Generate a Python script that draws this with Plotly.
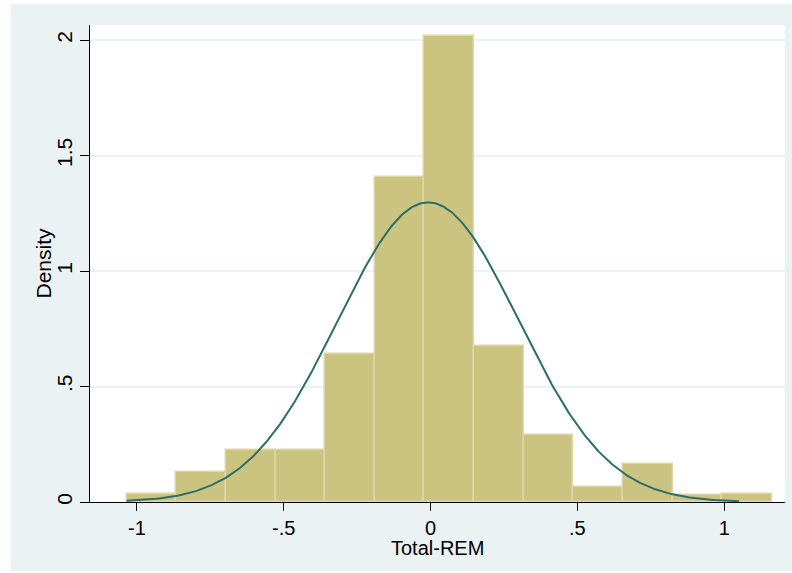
import numpy as np
import plotly.graph_objects as go

# Histogram data (density per bin)
bin_start = -1.0354
bin_width = 0.1691
densities = [0.035, 0.13, 0.226, 0.226, 0.642, 1.407, 2.016, 0.674, 0.29, 0.065, 0.166, 0.032, 0.035]

# Normal density overlay parameters
norm_mean = -0.008
norm_sd = 0.3076
curve_min = -1.0354
curve_max = 1.05

x_tickvals = [-1, -0.5, 0, 0.5, 1]
x_ticktext = ["-1", "-.5", "0", ".5", "1"]
y_tickvals = [0, 0.5, 1, 1.5, 2]
y_ticktext = ["0", ".5", "1", "1.5", "2"]
x_title = "Total-REM"
y_title = "Density"

centers = [bin_start + bin_width * (i + 0.5) for i in range(len(densities))]

xs = np.linspace(curve_min, curve_max, 400)
ys = np.exp(-0.5 * ((xs - norm_mean) / norm_sd) ** 2) / (norm_sd * np.sqrt(2 * np.pi))

FONT = "Liberation Sans, Arial, sans-serif"
BG = "#EAF2F3"

fig = go.Figure()
fig.add_trace(go.Bar(
    x=centers, y=densities, width=[bin_width] * len(densities),
    marker=dict(color="#CBC380", line=dict(color="#DDD7A6", width=1.5)),
    hoverinfo="skip", showlegend=False,
))
fig.add_trace(go.Scatter(
    x=xs, y=ys, mode="lines",
    line=dict(color="#2C6E68", width=2),
    hoverinfo="skip", showlegend=False,
))

W, H = 792, 573
L, R, T, B = 90, 7, 25, 71
pw, ph = W - L - R, H - T - B

def fx(px):
    return (px - L) / pw

def fy(py):
    return ((H - B) - py) / ph

# white page strips outside the light graph region
def px_rect(x0, y0, x1, y1):
    fig.add_shape(
        type="rect", xref="paper", yref="paper", layer="below",
        x0=fx(x0), x1=fx(x1), y0=fy(y1), y1=fy(y0),
        fillcolor="white", line=dict(width=0),
    )

px_rect(-5, -5, 11, H + 5)
px_rect(-5, -5, W + 5, 4)
px_rect(-5, 571, W + 5, H + 5)

fig.add_annotation(
    x=0.5, y=fy(548), xref="paper", yref="paper", text=x_title,
    showarrow=False, xanchor="center", yanchor="middle",
    font=dict(family=FONT, size=20, color="black"),
)
fig.add_annotation(
    x=fx(43), y=0.5, xref="paper", yref="paper", text=y_title,
    showarrow=False, xanchor="center", yanchor="middle", textangle=-90,
    font=dict(family=FONT, size=21, color="black"),
)

fig.update_layout(
    width=W, height=H,
    margin=dict(l=L, r=R, t=T, b=B, pad=0),
    paper_bgcolor=BG, plot_bgcolor="white",
    font=dict(family=FONT, size=20, color="black"),
    bargap=0,
    xaxis=dict(
        range=[-1.160, 1.207], tickvals=x_tickvals, ticktext=x_ticktext,
        showgrid=False, zeroline=False,
        showline=True, linecolor="black", linewidth=1,
        ticks="outside", ticklen=8, tickcolor="black", tickwidth=1,
        tickfont=dict(size=20),
    ),
    yaxis=dict(
        range=[0, 2.065], tickvals=y_tickvals, ticktext=y_ticktext,
        showgrid=True, gridcolor="#EAF2F3", gridwidth=2,
        zeroline=False,
        showline=True, linecolor="black", linewidth=1,
        ticks="outside", ticklen=9, tickcolor="black", tickwidth=1,
        tickangle=-90,
        tickfont=dict(size=21),
    ),
)

fig.write_html("out.html")
